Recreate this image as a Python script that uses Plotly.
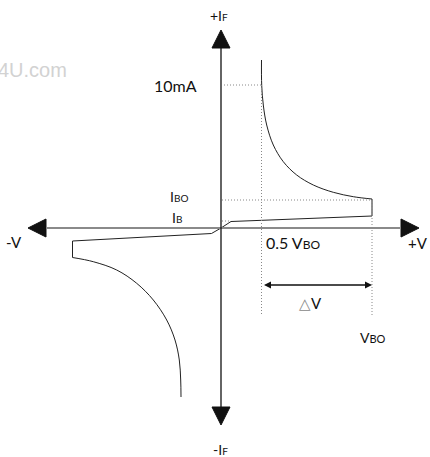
import plotly.graph_objects as go

# drawing units: 1 unit = 1 px, origin where the two axes cross
# forward branch (+V, +IF)
pos_lin_x = [0, 10, 151, 151]
pos_lin_y = [0, 6.5, 12, 29]
pos_curve_x = [151, 132.3, 112.3, 92.3, 75.7, 62.3, 52.3, 45.7, 42.3, 40.7, 40.5]
pos_curve_y = [29, 31.3, 35.7, 43, 53, 66.3, 83, 103, 123, 143, 168]

# reverse branch (-V, -IF)
neg_lin_x = [0, -9.5, -148.5, -148.5]
neg_lin_y = [0, -5.5, -13, -29.5]
neg_curve_x = [-148.5, -127.7, -104.3, -84.3, -67.7, -54.3, -46, -41.7, -40.3, -40]
neg_curve_y = [-29.5, -33.7, -42, -55.3, -72, -92, -112, -132, -152, -169]

# reference levels
i_10ma = 143
i_bo = 28
i_b = 7
v_half = 40.5
v_bo = 151
v_floor = -87      # where the vertical guide lines stop
dv_y = -57         # level of the delta-V arrow

# axis extents (tips of the arrows)
x_min, x_max = -193, 198
y_min, y_max = -197, 198
head_len, head_half = 18, 9

FONT = "Lato, 'Open Sans', sans-serif"

fig = go.Figure()

# axes
fig.add_shape(type="line", x0=x_min + head_len, x1=x_max - head_len, y0=0, y1=0,
              line=dict(color="#8a8a8a", width=2))
fig.add_shape(type="line", x0=0, x1=0, y0=y_min + head_len, y1=y_max - head_len,
              line=dict(color="#111", width=1.3))

arrows = [
    ([0, -head_half, head_half, 0], [y_max, y_max - head_len, y_max - head_len, y_max]),
    ([0, -head_half, head_half, 0], [y_min, y_min + head_len, y_min + head_len, y_min]),
    ([x_max, x_max - head_len, x_max - head_len, x_max], [0, head_half, -head_half, 0]),
    ([x_min, x_min + head_len, x_min + head_len, x_min], [0, head_half, -head_half, 0]),
]
for ax_x, ax_y in arrows:
    fig.add_trace(go.Scatter(x=ax_x, y=ax_y, mode="lines", fill="toself",
                             fillcolor="#111", line=dict(color="#111", width=1),
                             hoverinfo="skip"))

# dotted guide lines
dot = dict(color="#888", width=1, dash="1px,2px")
fig.add_shape(type="line", x0=3, x1=v_half, y0=i_10ma, y1=i_10ma, line=dot)
fig.add_shape(type="line", x0=1, x1=v_bo, y0=i_bo, y1=i_bo, line=dot)
fig.add_shape(type="line", x0=1, x1=pos_lin_x[1], y0=i_b, y1=i_b, line=dot)
fig.add_shape(type="line", x0=v_half, x1=v_half, y0=i_10ma, y1=v_floor, line=dot)
fig.add_shape(type="line", x0=v_bo, x1=v_bo, y0=i_bo, y1=v_floor, line=dot)

# characteristic curve
curve = dict(color="#222", width=1)
fig.add_trace(go.Scatter(x=pos_lin_x, y=pos_lin_y, mode="lines", line=curve, hoverinfo="skip"))
fig.add_trace(go.Scatter(x=pos_curve_x, y=pos_curve_y, mode="lines", hoverinfo="skip",
                         line=dict(color="#222", width=1, shape="spline", smoothing=1)))
fig.add_trace(go.Scatter(x=neg_lin_x, y=neg_lin_y, mode="lines", line=curve, hoverinfo="skip"))
fig.add_trace(go.Scatter(x=neg_curve_x, y=neg_curve_y, mode="lines", hoverinfo="skip",
                         line=dict(color="#222", width=1, shape="spline", smoothing=1)))

# delta-V double arrow
fig.add_annotation(x=v_bo, y=dv_y, ax=v_half + 1, ay=dv_y, xref="x", yref="y",
                   axref="x", ayref="y", text="", showarrow=True,
                   arrowhead=2, arrowside="end+start", arrowsize=1,
                   arrowwidth=1.4, arrowcolor="#111")

sub = "<span style='font-size:{}px'>{}</span>"
labels = [
    (-2, 213, "+I" + sub.format(10, "F"), 14, "center"),
    (-1, -221, "-I" + sub.format(10, "F"), 14, "center"),
    (-22, i_10ma, "10mA", 16, "right"),
    (-31, 32, "I" + sub.format(10, "BO"), 14, "right"),
    (-37, 11, "I" + sub.format(10, "B"), 14, "right"),
    (-207, -14, "-V", 15, "center"),
    (197, -15, "+V", 15, "center"),
    (43, -14, "0.5 V" + sub.format(12, "BO"), 16, "left"),
    (89, -75, "<span style='color:#888'>△</span>V", 15, "center"),
    (152, -109, "V" + sub.format(11, "BO"), 14, "center"),
]
for lx, ly, txt, size, anchor in labels:
    fig.add_annotation(x=lx, y=ly, text=txt, showarrow=False, xanchor=anchor,
                       yanchor="middle", font=dict(family=FONT, size=size, color="#111"))

# faint watermark, partly cut by the left edge
fig.add_annotation(x=-152, y=158, text="4U.com", showarrow=False, xanchor="right",
                   font=dict(family="Liberation Sans, Arial, sans-serif", size=20, color="#d2d2d2"))

fig.update_layout(
    width=430, height=457,
    margin=dict(l=0, r=0, t=0, b=0),
    paper_bgcolor="white", plot_bgcolor="white",
    showlegend=False,
    xaxis=dict(range=[-221, 209], visible=False, fixedrange=True),
    yaxis=dict(range=[-229, 228], visible=False, fixedrange=True),
)

# the page body has a default 8px margin; drop it so the figure sits at 0,0
fig.write_html("out.html", config={"displayModeBar": False},
               post_script="document.body.style.margin='0';")
